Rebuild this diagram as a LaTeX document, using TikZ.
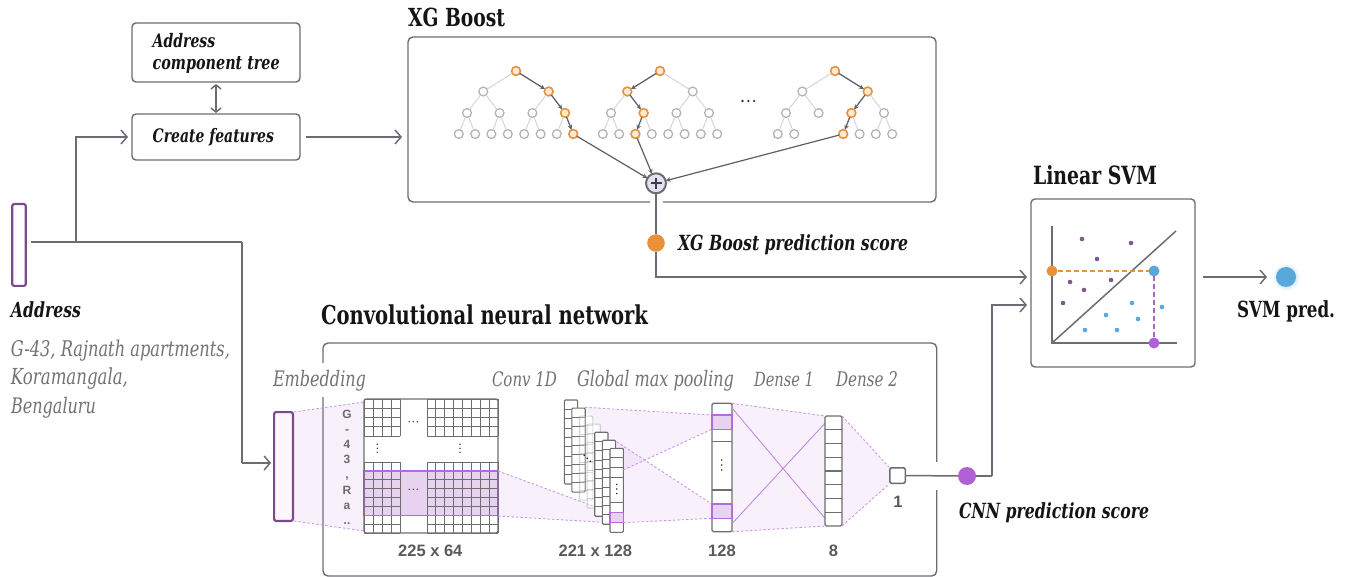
\documentclass[tikz,border=0pt]{standalone}
\usepackage{fontspec}
\setmainfont{DejaVu Serif}
\newfontfamily\numfont{Liberation Sans}
\usetikzlibrary{arrows.meta,calc}

\definecolor{ink}{HTML}{151515}
\definecolor{edge}{HTML}{6C6C74}
\definecolor{darkedge}{HTML}{5E5E66}
\definecolor{greytxt}{HTML}{727272}
\definecolor{numtxt}{HTML}{5A5A5A}
\definecolor{addr}{HTML}{7A4A8C}
\definecolor{hl}{HTML}{B469DC}
\definecolor{hlfill}{HTML}{E7D3F0}
\definecolor{dashc}{HTML}{C99AE8}
\definecolor{orng}{HTML}{E8913A}
\definecolor{orfill}{HTML}{FDEBD9}
\definecolor{sky}{HTML}{58A9DA}
\definecolor{plum}{HTML}{7D5A8D}
\definecolor{cnnpt}{HTML}{B061D6}
\definecolor{treeline}{HTML}{D5D5D5}
\definecolor{treenode}{HTML}{B4B4B4}
\definecolor{plusfill}{HTML}{E2E2EE}
\definecolor{plusink}{HTML}{3B3B52}
\definecolor{gridc}{HTML}{6E6E6E}

% text set a little taller, then squeezed to a given width (in pt)
\newcommand\fitw[2]{\resizebox{#1pt}{!}{\scalebox{1}[1.33]{#2}}}

% one boosted tree: #1 name, #2 root x, #3 third-level nodes that carry leaves
\newcommand\xgtree[3]{%
  \node[tn,hot#1r/.try] (#1r) at (#2,71) {};
  \foreach \a/\da in {1/-32.7,2/32.7}{
    \node[tn,hot#1\a/.try] (#1\a) at ({#2+\da},91.5) {};
    \draw[tl] (#1r) -- (#1\a);
    \foreach \b/\db in {1/-16.3,2/16.3}{
      \node[tn,hot#1\a\b/.try] (#1\a\b) at ({#2+\da+\db},113) {};
      \draw[tl] (#1\a) -- (#1\a\b);
    }
  }
  \foreach \p in {#3}{
    \foreach \c/\dc in {1/-8.2,2/8.2}{
      \node[tn,hot#1\p\c/.try] (#1\p\c) at ($(#1\p)+(\dc,21)$) {};
      \draw[tl] (#1\p) -- (#1\p\c);
    }
  }
}

\begin{document}
\begin{tikzpicture}[x=1pt,y=-1pt,
  every node/.style={inner sep=0pt,outer sep=0pt},
  lbl/.style={anchor=base west,text=ink},
  glbl/.style={anchor=base west,text=greytxt},
  num/.style={anchor=base,text=numtxt,font=\numfont\bfseries\fontsize{16.5}{18}\selectfont},
  letter/.style={anchor=base,text=numtxt!90,font=\numfont\bfseries\fontsize{12}{13}\selectfont},
  box/.style={draw=edge,line width=1.4pt,rounded corners=4pt,fill=white},
  boxline/.style={draw=edge,line width=1.4pt,rounded corners=5pt},
  conn/.style={draw=edge,line width=1.5pt},
  arrowed/.style={-{Straight Barb[length=6pt,width=14pt]}},
  tn/.style={circle,draw=treenode,fill=white,line width=1.3pt,minimum size=8.8pt},
  hotn/.style={draw=orng,fill=orfill,line width=1.6pt},
  tl/.style={draw=treeline,line width=1pt},
  darr/.style={draw=darkedge,line width=1.2pt,-{Stealth[length=5pt,width=4.5pt]}},
  hotAr/.style={hotn},hotA2/.style={hotn},hotA22/.style={hotn},hotA222/.style={hotn},
  hotBr/.style={hotn},hotB1/.style={hotn},hotB12/.style={hotn},hotB121/.style={hotn},
  hotCr/.style={hotn},hotC2/.style={hotn},hotC21/.style={hotn},hotC211/.style={hotn},
  wash/.style={fill=hl,fill opacity=0.09},
  dashl/.style={draw=dashc,line width=0.9pt,dash pattern=on 2.5pt off 2pt},
  gridl/.style={draw=gridc,line width=0.8pt},
  cellbox/.style={draw=gridc,line width=1.2pt,fill=white,rounded corners=1.5pt},
  hlcell/.style={draw=hl,line width=1.2pt,fill=hlfill},
  sdot/.style={circle,minimum size=4.6pt,fill=#1},
  bdot/.style={circle,minimum size=11pt,fill=#1},
  tinydot/.style={circle,minimum size=1.8pt,fill=black!80}
]
\useasboundingbox (0,0) rectangle (1347,577);

% ================= address input =================
\node[draw=addr,line width=2.2pt,rounded corners=2pt,minimum width=13.6pt,minimum height=81.8pt] (addrbar) at (19,245) {};
\node[lbl] (addrtitle) at (11,318) {\fitw{70}{\bfseries\itshape Address}};
\node[glbl] (addrl1) at (11,356) {\fitw{219}{\itshape G-43, Rajnath apartments,}};
\node[glbl] (addrl2) at (11,384.5) {\fitw{117}{\itshape Koramangala,}};
\node[glbl] (addrl3) at (11,413) {\fitw{85}{\itshape Bengaluru}};

% ================= feature boxes =================
\node[box,anchor=north west,minimum width=168pt,minimum height=59pt] (tree) at (132,23) {};
\node[lbl] (treel1) at (152.7,47.3) {\fitw{62.5}{\bfseries\itshape Address}};
\node[lbl] (treel2) at (152.7,69.3) {\fitw{127}{\bfseries\itshape component tree}};
\node[box,anchor=north west,minimum width=168pt,minimum height=46pt] (feat) at (132,114) {};
\node[lbl] (featl) at (152.7,142.7) {\fitw{121.3}{\bfseries\itshape Create features}};

% ================= XG Boost =================
\node[lbl] (xgtitle) at (408,27) {\fitw{97}{\bfseries XG Boost}};
\node[anchor=north west,minimum width=528pt,minimum height=165pt] (xgbox) at (408,37) {};
\draw[boxline] (650,202) -- (408,202) -- (408,37) -- (936,37) -- (936,202) -- (663,202);

\xgtree{A}{516}{11,12,21,22}
\xgtree{B}{660}{11,12,21,22}
\xgtree{C}{835}{11,21,22}

\node[tinydot,minimum size=2.6pt] (more1) at (742.5,101) {};
\node[tinydot,minimum size=2.6pt] (more2) at (748.3,101) {};
\node[tinydot,minimum size=2.6pt] (more3) at (754.1,101) {};

\draw[darr] (Ar) -- (A2);  \draw[darr] (A2) -- (A22);  \draw[darr] (A22) -- (A222);
\draw[darr] (Br) -- (B1);  \draw[darr] (B1) -- (B12);  \draw[darr] (B12) -- (B121);
\draw[darr] (Cr) -- (C2);  \draw[darr] (C2) -- (C21);  \draw[darr] (C21) -- (C211);

\node[circle,draw=edge,line width=2pt,fill=plusfill,minimum size=20pt] (plus) at (656,183.3) {};
\draw[plusink,line width=1.8pt] ($(plus)+(-5.5,0)$) -- ($(plus)+(5.5,0)$);
\draw[plusink,line width=1.8pt] ($(plus)+(0,-5.5)$) -- ($(plus)+(0,5.5)$);
\draw[darr] (A222) -- (plus);
\draw[darr] (B121) -- (plus);
\draw[darr] (C211) -- (plus);

\node[circle,fill=orng,minimum size=17.6pt] (xgdot) at (656,243) {};
\node[lbl] (xgscore) at (678,251) {\fitw{230}{\bfseries\itshape XG Boost prediction score}};

% ================= address connectors =================
\coordinate (addrout) at (31,242);
\coordinate (fork) at (76,242);
\coordinate (drop) at (242,242);
\draw[conn] (addrout) -- (drop);
\draw[conn,arrowed,shorten >=4pt] (fork) |- (feat.west);
\draw[conn,{Straight Barb[length=4pt,width=10pt]}-{Straight Barb[length=4pt,width=10pt]},shorten <=2pt,shorten >=1pt] (tree.south) -- (feat.north);
\draw[conn,arrowed,shorten <=6pt,shorten >=6pt] (feat.east) -- (feat.east -| xgbox.west);

% ================= CNN =================
\node[lbl] (cnntitle) at (321,325) {\fitw{327}{\bfseries Convolutional neural network}};
\draw[boxline] (323,363) -- (323,343) -- (936.7,343) -- (936.7,462);
\draw[boxline] (323,397) -- (323,576) -- (936.7,576) -- (936.7,490);

\node[glbl] (lemb) at (273,386) {\fitw{93}{\itshape Embedding}};
\node[glbl] (lconv) at (492,386) {\fitw{65}{\itshape Conv 1D}};
\node[glbl] (lgmp) at (577,386) {\fitw{157}{\itshape Global max pooling}};
\node[glbl] (ld1) at (754,386) {\fitw{60}{\itshape Dense 1}};
\node[glbl] (ld2) at (836,386) {\fitw{62}{\itshape Dense 2}};

% projection washes
\fill[wash] (294,412) -- (364,402) -- (364,531) -- (294,521) -- cycle;
\fill[wash] (498,471) -- (610,512.3) -- (610,522.7) -- (498,516) -- cycle;
\fill[wash] (585,407.3) -- (711.7,415) -- (711.7,429.3) -- (623.3,470) -- cycle;
\fill[wash] (616.7,441.7) -- (711.7,504) -- (711.7,518.3) -- (623.3,522.7) -- cycle;
\fill[wash] (732,403.3) -- (825,416) -- (825,526) -- (732,531.7) -- cycle;
\fill[wash] (842,416) -- (889,467) -- (889,484) -- (842,526) -- cycle;

% embedding vector
\node[draw=addr,line width=2.2pt,fill=hl!5,rounded corners=2pt,minimum width=18.8pt,minimum height=108.8pt] (embbar) at (283.5,466.5) {};
\draw[conn] (drop) -- (242,463);
\draw[conn,arrowed,shorten >=3pt] (242,463) -- ($(embbar.west)+(0,-3.5)$);
\draw[dashl] (294,412) -- (364,402);
\draw[dashl] (294,521) -- (364,531);

% characters of the address
\foreach \ch/\yy [count=\k] in {G/418,-/433,4/448,3/463,{,}/478,R/494,a/509,../524}
  \node[letter] (chr\k) at (347,\yy) {\ch};

% embedding matrix 225 x 64
\fill[white,rounded corners=2pt] (364,399) rectangle (498,533);
\fill[hlfill] (364,470.9) rectangle (498,515.25);
\foreach \i in {0,...,4}{
  \draw[gridl] ({364+9*\i},399) -- ({364+9*\i},436);
  \draw[gridl] ({364+9*\i},462) -- ({364+9*\i},533);
  \draw[gridl] (364,{399+9.25*\i}) -- (400,{399+9.25*\i});
  \draw[gridl] (427,{399+9.25*\i}) -- (498,{399+9.25*\i});
}
\foreach \i in {0,...,8}{
  \draw[gridl] ({427+8.875*\i},399) -- ({427+8.875*\i},436);
  \draw[gridl] ({427+8.875*\i},462) -- ({427+8.875*\i},533);
  \draw[gridl] (364,{462+8.875*\i}) -- (400,{462+8.875*\i});
  \draw[gridl] (427,{462+8.875*\i}) -- (498,{462+8.875*\i});
}
\draw[draw=hl,line width=1.3pt] (364,470.9) rectangle (498,515.25);
\draw[draw=gridc,line width=1.3pt,rounded corners=2pt] (364,399) rectangle (498,533);
\foreach \d in {-4,0,4}{
  \fill[black!75] ({413.3+\d},421.7) circle (0.8);
  \fill[black!75] ({413.3+\d},489.3) circle (0.8);
  \fill[black!75] (377.3,{448.3+\d}) circle (0.8);
  \fill[black!75] (460,{448.3+\d}) circle (0.8);
}
\draw[dashl] (498,471) -- (610,512.3);
\draw[dashl] (498,516) -- (610,522.7);

% convolution outputs 221 x 128
\foreach \i/\op in {0/1,1/1,2/0.3,3/0.3,4/1,5/1}{
  \pgfmathsetmacro\cx{564.3+7.6*\i}
  \pgfmathsetmacro\cy{400+8.05*\i}
  \begin{scope}[opacity=\op]
    \filldraw[fill=white,draw=gridc,line width=1.1pt,rounded corners=1pt] (\cx,\cy) rectangle ++(13.3,84);
    \foreach \k in {1,...,8} \draw[gridl] (\cx,{\cy+9.33*\k}) -- ++(13.3,0);
  \end{scope}
}
\foreach \d in {-3,0,3} \fill[black!85] ({587.3+\d},{458.3+\d}) circle (0.9);
\filldraw[fill=white,draw=gridc,line width=1.1pt,rounded corners=1pt] (610,448.3) rectangle (623.3,532.3);
\foreach \yy in {457.7,467.3,477.3,502.7} \draw[gridl] (610,\yy) -- (623.3,\yy);
\filldraw[hlcell] (610,512.3) rectangle (623.3,522.7);
\foreach \d in {-4.5,0,4.5} \fill[black!80] (616.7,{489+\d}) circle (0.8);

\draw[dashl] (585,407.3) -- (711.7,415);
\draw[dashl] (623.3,470) -- (711.7,429.3);
\draw[dashl] (616.7,441.7) -- (711.7,504);
\draw[dashl] (623.3,522.7) -- (711.7,518.3);

% pooled vector 128
\filldraw[cellbox] (712,403.3) rectangle (732,531.7);
\foreach \yy in {441.7,490} \draw[draw=gridc,line width=1.2pt] (712,\yy) -- (732,\yy);
\filldraw[hlcell] (712,415) rectangle (732,429.3);
\filldraw[hlcell] (712,504) rectangle (732,518.3);
\foreach \d in {-5,0,5} \fill[black!80] (721.7,{465+\d}) circle (0.9);

% dense layers
\draw[dashl] (732,403.3) -- (825,416);
\draw[dashl] (732,531.7) -- (825,526);
\draw[hl!80,line width=0.9pt] (732.3,408.3) -- (825,518.3);
\draw[hl!80,line width=0.9pt] (732.3,523.3) -- (825,423.3);
\filldraw[cellbox] (825,416) rectangle (842,526);
\foreach \k in {1,...,7} \draw[draw=gridc,line width=1.2pt] (825,{416+13.75*\k}) -- (842,{416+13.75*\k});
\draw[dashl] (842,416) -- (889,467);
\draw[dashl] (842,526) -- (889,484);
\node[draw=edge,line width=1.5pt,fill=white,rounded corners=1.5pt,minimum size=15.5pt] (outsq) at (897.5,475.5) {};

% layer sizes
\node[num] (s1) at (430.3,556.7) {225 x 64};
\node[num] (s2) at (595.3,556.7) {221 x 128};
\node[num] (s3) at (722,556.7) {128};
\node[num] (s4) at (833.5,556.7) {8};
\node[num] (s5) at (898,507) {1};

\node[circle,fill=cnnpt,minimum size=18pt] (cnndot) at (967,476) {};
\node[lbl] (cnnscore) at (959,518) {\fitw{190}{\bfseries\itshape CNN prediction score}};

% ================= Linear SVM =================
\node[lbl] (svmtitle) at (1033,185) {\fitw{124}{\bfseries Linear SVM}};
\node[box,anchor=north west,minimum width=164pt,minimum height=168pt] (svmbox) at (1031,199) {};
\coordinate (svmin1) at (1031,277);
\coordinate (svmin2) at (1031,305);
\coordinate (cnnbend) at (992,476);

\draw[conn] (plus) -- (xgdot);
\draw[conn,arrowed,shorten >=4pt] (xgdot) |- (svmin1);
\draw[conn] (outsq) -- (cnndot);
\draw[conn] (cnndot) -- (cnnbend);
\draw[conn,arrowed,shorten >=4pt] (cnnbend) |- (svmin2);

\draw[edge,line width=1.5pt] (1052,226) -- (1052,343) -- (1177,343);
\draw[edge,line width=1.5pt] (1052,343) -- (1176,231);
\foreach \px/\py [count=\k] in {1082/239,1131/243,1097/259,1070/282,1111/280,1084/290,1063/303}
  \node[sdot=plum] (neg\k) at (\px,\py) {};
\foreach \px/\py [count=\k] in {1132/303,1162/307,1106/315,1138/319,1085/330,1117/330}
  \node[sdot=sky] (pos\k) at (\px,\py) {};
\node[bdot=orng] (xaxispt) at (1052,271) {};
\node[bdot=sky] (query) at (1154,271) {};
\node[bdot=cnnpt] (yaxispt) at (1154,343) {};
\draw[orng,line width=1.3pt,dash pattern=on 5pt off 3pt] (xaxispt) -- (query);
\draw[cnnpt,line width=1.3pt,dash pattern=on 5pt off 3pt] (query) -- (yaxispt);

% SVM output
\shade[inner color=sky!70,outer color=white] (1286,277) circle (14);
\node[circle,fill=sky,minimum size=20pt] (svmdot) at (1286,277) {};
\coordinate (svmout) at (1203,277);
\draw[conn,arrowed,shorten >=9pt] (svmout) -- (svmdot);
\node[lbl] (svmpred) at (1237,318) {\fitw{98}{\bfseries SVM pred.}};

\end{tikzpicture}
\end{document}
